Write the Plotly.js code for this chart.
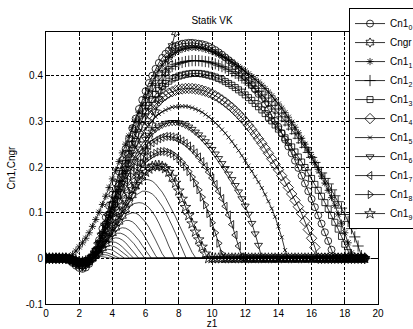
<!DOCTYPE html>
<html><head><meta charset="utf-8">
<script src="https://cdn.plot.ly/plotly-3.0.1.min.js"></script>
<style>html,body{margin:0;padding:0;background:#fff}#chart{width:413px;height:329px}</style>
</head><body><div id="chart"></div>
<script>
const z = [0,0.2,0.4,0.6,0.8,1,1.2,1.4,1.6,1.8,
2,2.2,2.4,2.6,2.8,3,3.2,3.4,3.6,3.8,
4,4.2,4.4,4.6,4.8,5,5.2,5.4,5.6,5.8,
6,6.2,6.4,6.6,6.8,7,7.2,7.4,7.6,7.8,
8,8.2,8.4,8.6,8.8,9,9.2,9.4,9.6,9.8,
10,10.2,10.4,10.6,10.8,11,11.2,11.4,11.6,11.8,
12,12.2,12.4,12.6,12.8,13,13.2,13.4,13.6,13.8,
14,14.2,14.4,14.6,14.8,15,15.2,15.4,15.6,15.8,
16,16.2,16.4,16.6,16.8,17,17.2,17.4,17.6,17.8,
18,18.2,18.4,18.6,18.8,19,19.2];

const cn1_0 = [0,0,0,0,0,0,0,-0.004,-0.01,-0.016,
-0.021,-0.023,-0.02,-0.012,0,0.018,0.04,0.065,0.09,0.115,
0.14,0.165,0.19,0.215,0.24,0.262,0.285,0.306,0.327,0.347,
0.366,0.384,0.4,0.415,0.428,0.439,0.448,0.455,0.461,0.465,
0.468,0.47,0.471,0.472,0.472,0.471,0.47,0.469,0.467,0.464,
0.46,0.456,0.451,0.446,0.44,0.434,0.428,0.421,0.414,0.406,
0.398,0.389,0.38,0.37,0.36,0.349,0.338,0.326,0.314,0.301,
0.288,0.274,0.26,0.245,0.23,0.214,0.198,0.181,0.164,0.147,
0.13,0.112,0.094,0.076,0.057,0.038,0.019,0,0,0,
0,0,0,0,0,0,0];

const cngr = [0,0,0,0,0,0,0,-0.001,-0.003,-0.005,
-0.007,-0.008,-0.007,-0.004,0,0.006,0.013,0.022,0.032,0.043,
0.055,0.067,0.08,0.093,0.107,0.122,0.138,0.157,0.183,0.208,
0.235,0.263,0.291,0.32,0.349,0.378,0.407,0.436,0.465,0.495,
0.525,0.555];

const cn1_1 = [0,0,0,0,0,0,0,0.002,0.008,0.016,
0.025,0.034,0.044,0.056,0.07,0.085,0.101,0.118,0.136,0.155,
0.174,0.193,0.212,0.231,0.25,0.268,0.286,0.303,0.32,0.336,
0.352,0.367,0.383,0.399,0.412,0.423,0.432,0.44,0.446,0.451,
0.455,0.458,0.46,0.461,0.462,0.462,0.461,0.46,0.458,0.456,
0.453,0.45,0.447,0.443,0.439,0.435,0.43,0.425,0.42,0.415,
0.41,0.404,0.398,0.392,0.386,0.379,0.372,0.364,0.356,0.347,
0.338,0.329,0.319,0.309,0.298,0.287,0.275,0.263,0.25,0.237,
0.223,0.209,0.195,0.18,0.165,0.149,0.133,0.116,0.097,0.077,
0.056,0.034,0.012,0,0,0,0];

const cn1_2 = [0,0,0,0,0,0,0,-0.002,-0.007,-0.012,
-0.015,-0.017,-0.014,-0.008,0.002,0.016,0.034,0.055,0.077,0.1,
0.123,0.146,0.169,0.192,0.214,0.236,0.257,0.278,0.298,0.317,
0.335,0.351,0.366,0.379,0.39,0.4,0.408,0.415,0.42,0.424,
0.427,0.429,0.431,0.432,0.433,0.433,0.433,0.432,0.431,0.43,
0.428,0.426,0.423,0.42,0.417,0.413,0.409,0.405,0.4,0.395,
0.39,0.384,0.378,0.372,0.365,0.358,0.351,0.343,0.335,0.327,
0.318,0.31,0.301,0.292,0.283,0.273,0.263,0.253,0.243,0.232,
0.221,0.21,0.199,0.187,0.175,0.163,0.15,0.137,0.124,0.11,
0.096,0.081,0.065,0.047,0.027,0.006,0];

const cn1_3 = [0,0,0,0,0,0,0,-0.002,-0.006,-0.011,
-0.014,-0.016,-0.013,-0.007,0.002,0.015,0.032,0.052,0.074,0.096,
0.118,0.141,0.163,0.185,0.207,0.228,0.249,0.269,0.288,0.305,
0.321,0.335,0.348,0.359,0.368,0.376,0.383,0.388,0.393,0.396,
0.399,0.401,0.403,0.404,0.405,0.405,0.405,0.404,0.403,0.401,
0.399,0.397,0.394,0.391,0.387,0.383,0.379,0.374,0.369,0.364,
0.358,0.352,0.346,0.339,0.332,0.325,0.317,0.309,0.301,0.292,
0.283,0.274,0.264,0.254,0.244,0.233,0.222,0.211,0.199,0.187,
0.175,0.162,0.149,0.136,0.122,0.108,0.094,0.079,0.064,0.048,
0.031,0.013,0,0,0,0,0];

const cn1_4 = [0,0,0,0,0,0,0,-0.002,-0.006,-0.01,
-0.013,-0.015,-0.012,-0.006,0.003,0.016,0.033,0.053,0.074,0.095,
0.116,0.137,0.158,0.179,0.199,0.219,0.238,0.256,0.273,0.289,
0.303,0.316,0.327,0.337,0.345,0.352,0.357,0.362,0.365,0.368,
0.37,0.371,0.372,0.372,0.372,0.371,0.37,0.368,0.366,0.363,
0.36,0.356,0.352,0.347,0.342,0.336,0.33,0.323,0.316,0.308,
0.3,0.291,0.282,0.272,0.262,0.252,0.241,0.23,0.218,0.206,
0.194,0.181,0.168,0.155,0.141,0.127,0.113,0.098,0.081,0.063,
0.044,0.024,0,0,0,0,0,0,0,0,
0,0,0,0,0,0,0];

const cn1_5 = [0,0,0,0,0,0,0,-0.002,-0.005,-0.009,
-0.012,-0.013,-0.011,-0.005,0.004,0.017,0.034,0.053,0.073,0.093,
0.113,0.133,0.153,0.173,0.192,0.21,0.227,0.243,0.258,0.271,
0.283,0.293,0.302,0.31,0.316,0.321,0.325,0.328,0.331,0.332,
0.333,0.333,0.333,0.332,0.33,0.327,0.324,0.32,0.315,0.31,
0.304,0.297,0.29,0.282,0.274,0.265,0.256,0.246,0.236,0.225,
0.214,0.203,0.191,0.179,0.167,0.154,0.14,0.125,0.109,0.091,
0.07,0.046,0.018,0,0,0,0,0,0,0,
0,0,0,0,0,0,0,0,0,0,
0,0,0,0,0,0,0];

const cn1_6 = [0,0,0,0,0,0,0,-0.002,-0.005,-0.008,
-0.011,-0.012,-0.01,-0.004,0.005,0.018,0.034,0.052,0.071,0.09,
0.109,0.128,0.147,0.165,0.182,0.198,0.213,0.227,0.24,0.251,
0.261,0.27,0.277,0.283,0.288,0.292,0.295,0.297,0.298,0.298,
0.297,0.295,0.292,0.288,0.283,0.277,0.271,0.264,0.256,0.248,
0.239,0.229,0.219,0.208,0.197,0.185,0.173,0.16,0.146,0.131,
0.115,0.097,0.077,0.054,0.029,0,0,0,0,0,
0,0,0,0,0,0,0,0,0,0,
0,0,0,0,0,0,0,0,0,0,
0,0,0,0,0,0,0];

const cn1_7 = [0,0,0,0,0,0,0,-0.001,-0.004,-0.007,
-0.01,-0.011,-0.009,-0.003,0.005,0.017,0.032,0.049,0.067,0.085,
0.103,0.121,0.138,0.155,0.171,0.186,0.199,0.211,0.222,0.232,
0.24,0.247,0.253,0.258,0.262,0.265,0.267,0.267,0.266,0.264,
0.261,0.257,0.252,0.246,0.239,0.231,0.222,0.212,0.201,0.189,
0.176,0.162,0.147,0.131,0.114,0.095,0.074,0.051,0.027,0.003,
0,0,0,0,0,0,0,0,0,0,
0,0,0,0,0,0,0,0,0,0,
0,0,0,0,0,0,0,0,0,0,
0,0,0,0,0,0,0];

const cn1_8 = [0,0,0,0,0,0,0,-0.001,-0.003,-0.006,
-0.008,-0.009,-0.007,-0.002,0.006,0.017,0.031,0.046,0.062,0.078,
0.094,0.11,0.125,0.14,0.154,0.167,0.179,0.19,0.2,0.208,
0.215,0.221,0.226,0.23,0.233,0.234,0.234,0.232,0.229,0.224,
0.218,0.21,0.201,0.19,0.178,0.165,0.15,0.134,0.117,0.098,
0.078,0.056,0.033,0.01,0,0,0,0,0,0,
0,0,0,0,0,0,0,0,0,0,
0,0,0,0,0,0,0,0,0,0,
0,0,0,0,0,0,0,0,0,0,
0,0,0,0,0,0,0];

const cn1_9 = [0,0,0,0,0,0,0,-0.001,-0.003,-0.005,
-0.007,-0.008,-0.006,-0.002,0.003,0.01,0.02,0.033,0.046,0.06,
0.074,0.088,0.102,0.115,0.128,0.14,0.151,0.162,0.172,0.181,
0.189,0.196,0.201,0.203,0.203,0.201,0.197,0.189,0.178,0.165,
0.148,0.13,0.112,0.094,0.076,0.058,0.041,0.025,0.01,0,
0,0,0,0,0,0,0,0,0,0,
0,0,0,0,0,0,0,0,0,0,
0,0,0,0,0,0,0,0,0,0,
0,0,0,0,0,0,0,0,0,0,
0,0,0,0,0,0,0];

// thinner unlabelled curves (lines only)
const thinX = [
[0,1.2,1.6,2.0,2.4,2.7,3.0,3.4,3.8,4.2,4.6,5.0,5.4,5.8,6.0,6.2,6.4,6.6,6.8,7.0,7.2,7.4,7.6,7.8,8.0,8.2,8.4,8.6,8.8,9.0,9.05,19.2],
[0,1.2,1.6,2.0,2.4,2.7,3.0,3.4,3.8,4.2,4.6,5.0,5.4,5.8,6.0,6.2,6.4,6.6,6.8,7.0,7.2,7.4,7.6,7.8,8.0,8.2,8.4,8.45,19.2],
[0,1.2,1.6,2.0,2.4,2.7,3.0,3.4,3.8,4.2,4.6,5.0,5.3,5.6,5.8,6.0,6.2,6.4,6.6,6.8,7.0,7.2,7.4,7.6,7.75,19.2],
[0,1.2,1.6,2.0,2.4,2.7,3.0,3.4,3.8,4.2,4.6,4.9,5.2,5.4,5.6,5.8,6.0,6.2,6.4,6.6,6.8,7.0,7.2,19.2],
[0,1.2,1.6,2.0,2.4,2.7,3.0,3.4,3.8,4.2,4.5,4.8,5.0,5.2,5.4,5.6,5.8,6.0,6.2,6.4,6.6,6.73,19.2],
[0,1.2,1.6,2.0,2.4,2.7,3.0,3.4,3.8,4.1,4.4,4.6,4.8,5.0,5.2,5.4,5.6,5.8,6.0,6.2,6.35,19.2],
[0,1.2,1.6,2.0,2.4,2.7,3.0,3.4,3.7,4.0,4.3,4.5,4.7,4.9,5.1,5.3,5.5,5.7,5.95,19.2],
[0,1.2,1.6,2.0,2.4,2.7,3.0,3.3,3.6,3.9,4.2,4.4,4.6,4.8,5.0,5.2,5.4,5.59,19.2],
[0,1.2,1.6,2.0,2.4,2.7,3.0,3.3,3.6,3.8,4.0,4.2,4.4,4.6,4.8,5.0,5.29,19.2],
[0,1.2,1.6,2.0,2.4,2.7,3.0,3.3,3.6,3.85,4.1,4.3,4.5,4.7,4.9,5.04,19.2],
[0,1.2,1.6,2.0,2.4,2.7,2.9,3.2,3.5,3.7,3.9,4.1,4.3,4.5,4.74,19.2],
[0,1.2,1.6,2.0,2.4,2.7,2.9,3.2,3.4,3.6,3.8,4.0,4.2,4.44,19.2],
[0,1.2,1.6,2.0,2.4,2.7,2.9,3.1,3.3,3.5,3.7,3.9,4.2,19.2],
[0,1.2,1.6,2.0,2.4,2.7,2.9,3.1,3.3,3.5,3.7,3.94,19.2]
];
const thinY = [
[0,0,-0.003,-0.006,-0.005,0,0.009,0.03,0.055,0.082,0.108,0.132,0.153,0.169,0.173,0.172,0.169,0.163,0.155,0.145,0.133,0.12,0.106,0.091,0.075,0.059,0.043,0.027,0.013,0.002,0,0],
[0,0,-0.003,-0.006,-0.005,0,0.008,0.028,0.052,0.077,0.101,0.122,0.138,0.147,0.147,0.145,0.141,0.134,0.125,0.114,0.101,0.087,0.071,0.055,0.038,0.021,0.004,0,0],
[0,0,-0.003,-0.006,-0.005,0,0.008,0.027,0.05,0.073,0.094,0.111,0.12,0.122,0.121,0.117,0.111,0.102,0.091,0.077,0.062,0.045,0.027,0.01,0,0],
[0,0,-0.003,-0.006,-0.005,0,0.007,0.026,0.048,0.069,0.087,0.096,0.1,0.099,0.095,0.088,0.079,0.068,0.055,0.04,0.025,0.01,0,0],
[0,0,-0.003,-0.006,-0.005,0,0.007,0.025,0.046,0.066,0.077,0.083,0.083,0.08,0.074,0.066,0.056,0.044,0.031,0.018,0.006,0,0],
[0,0,-0.003,-0.006,-0.005,0,0.007,0.024,0.044,0.057,0.065,0.067,0.066,0.062,0.056,0.048,0.039,0.028,0.017,0.006,0,0],
[0,0,-0.003,-0.006,-0.005,0,0.006,0.023,0.038,0.049,0.055,0.055,0.052,0.047,0.04,0.032,0.022,0.012,0,0],
[0,0,-0.003,-0.006,-0.005,0,0.006,0.02,0.033,0.042,0.045,0.044,0.04,0.034,0.026,0.017,0.008,0,0],
[0,0,-0.003,-0.006,-0.005,0,0.006,0.019,0.03,0.035,0.036,0.035,0.031,0.025,0.018,0.01,0,0],
[0,0,-0.003,-0.006,-0.005,0,0.005,0.017,0.025,0.028,0.026,0.022,0.017,0.011,0.005,0,0],
[0,0,-0.003,-0.006,-0.005,0,0.002,0.012,0.018,0.02,0.019,0.016,0.011,0.006,0,0],
[0,0,-0.003,-0.006,-0.005,0,0.002,0.009,0.012,0.013,0.011,0.008,0.004,0,0],
[0,0,-0.003,-0.006,-0.005,0,0.001,0.005,0.007,0.008,0.007,0.004,0,0],
[0,0,-0.003,-0.006,-0.005,0,0.001,0.003,0.004,0.003,0.002,0,0]
];

const xTicks = [0,2,4,6,8,10,12,14,16,18,20];
const yTicks = [-0.1,0,0.1,0.2,0.3,0.4];
const yTickText = ['-0.1','0','0.1','0.2','0.3','0.4'];

const traces = [];
thinX.forEach((xs, i) => {
  traces.push({x: xs, y: thinY[i], type:'scatter', mode:'lines',
    line:{color:'#000', width:0.7}, showlegend:false, hoverinfo:'skip'});
});

function marked(name, ys, symbol, size, rank) {
  return {x: z.slice(0, ys.length), y: ys, type:'scatter', mode:'lines+markers', name: name,
    legendrank: rank,
    line:{color:'#000', width:0.8},
    marker:{symbol: symbol, size: size, color:'#000', line:{color:'#000', width:0.8}}};
}
traces.push(marked('Cn1<sub>9</sub>', cn1_9, 'star-open', 8, 11));
traces.push(marked('Cn1<sub>8</sub>', cn1_8, 'triangle-right-open', 7, 10));
traces.push(marked('Cn1<sub>7</sub>', cn1_7, 'triangle-left-open', 7, 9));
traces.push(marked('Cn1<sub>6</sub>', cn1_6, 'triangle-down-open', 7, 8));
traces.push(marked('Cn1<sub>5</sub>', cn1_5, 'x-thin-open', 4, 7));
traces.push(marked('Cn1<sub>4</sub>', cn1_4, 'diamond-open', 8, 6));
traces.push(marked('Cn1<sub>3</sub>', cn1_3, 'square-open', 6, 5));
traces.push(marked('Cn1<sub>2</sub>', cn1_2, 'cross-thin-open', 8, 4));
traces.push(marked('Cn1<sub>1</sub>', cn1_1, 'asterisk-open', 6, 3));
traces.push(marked('Cngr', cngr, 'hexagram-open', 7, 2));
traces.push(marked('Cn1<sub>0</sub>', cn1_0, 'circle-open', 7, 1));

const axisCommon = {
  showline:true, linecolor:'#000', linewidth:1, mirror:'ticks',
  ticks:'inside', ticklen:4, tickcolor:'#000', tickwidth:1,
  showgrid:true, gridcolor:'#000', gridwidth:1, griddash:'3px,2px',
  zeroline:false, tickfont:{size:10, color:'#000'}
};

const layout = {
  width:413, height:329,
  margin:{l:46, r:35, t:32, b:25, autoexpand:false},
  paper_bgcolor:'#fff', plot_bgcolor:'#fff',
  font:{family:'Arial, "Liberation Sans", sans-serif', size:10, color:'#000'},
  title:{text:'Statik VK', x:0.5, xref:'paper', xanchor:'center', y:0.939, yref:'container', yanchor:'middle', font:{size:10, color:'#000'}},
  xaxis: Object.assign({}, axisCommon, {range:[0,20], tickvals:xTicks, ticktext:xTicks.map(String),
    title:{text:'z1', standoff:4, font:{size:10}}}),
  yaxis: Object.assign({}, axisCommon, {range:[-0.1,0.4957], tickvals:yTicks, ticktext:yTickText,
    title:{text:'Cn1,Cngr', standoff:8, font:{size:10}}}),
  showlegend:true,
  legend:{x:0.9127, y:1.088, xanchor:'left', yanchor:'top', bgcolor:'#fff', bordercolor:'#000', borderwidth:1,
    font:{size:10, color:'#000'}, itemwidth:30, traceorder:'normal', maxheight:320}
};

Plotly.newPlot('chart', traces, layout, {displayModeBar:false, staticPlot:true});
</script>
</body></html>
